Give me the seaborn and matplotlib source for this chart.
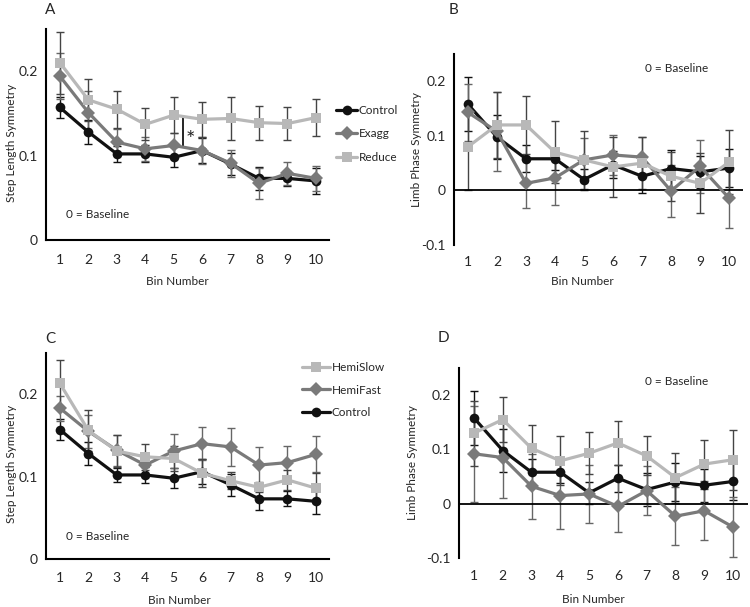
import matplotlib
matplotlib.use("Agg")
import matplotlib.pyplot as plt
from matplotlib.lines import Line2D
import numpy as np
import pandas as pd
import seaborn as sns

# ---------------- data ----------------
bins = list(range(1, 11))

# Panel A: step length symmetry
A_control = [0.157, 0.128, 0.102, 0.102, 0.098, 0.106, 0.090, 0.073, 0.073, 0.070]
A_control_err = [0.013, 0.014, 0.009, 0.010, 0.012, 0.015, 0.013, 0.014, 0.009, 0.015]
A_exagg = [0.194, 0.151, 0.116, 0.108, 0.112, 0.106, 0.091, 0.067, 0.079, 0.073]
A_exagg_err = [0.027, 0.025, 0.015, 0.014, 0.015, 0.016, 0.016, 0.018, 0.014, 0.015]
A_reduce = [0.210, 0.166, 0.155, 0.137, 0.148, 0.143, 0.144, 0.139, 0.138, 0.145]
A_reduce_err = [0.037, 0.025, 0.022, 0.019, 0.021, 0.021, 0.025, 0.020, 0.020, 0.022]

# Panel B: limb phase symmetry
B_control = [0.158, 0.098, 0.058, 0.058, 0.020, 0.047, 0.026, 0.040, 0.034, 0.041]
B_control_err = [0.050, 0.040, 0.025, 0.020, 0.020, 0.025, 0.030, 0.035, 0.030, 0.035]
B_exagg = [0.143, 0.108, 0.013, 0.023, 0.056, 0.065, 0.061, -0.001, 0.044, -0.014]
B_exagg_err = [0.052, 0.072, 0.046, 0.050, 0.040, 0.036, 0.037, 0.047, 0.048, 0.054]
B_reduce = [0.080, 0.120, 0.120, 0.070, 0.056, 0.043, 0.050, 0.026, 0.013, 0.052]
B_reduce_err = [0.079, 0.060, 0.053, 0.057, 0.053, 0.055, 0.048, 0.045, 0.055, 0.058]

# Panel C: step length symmetry (hemiparetic)
C_control = A_control
C_control_err = A_control_err
C_hemifast = [0.183, 0.155, 0.132, 0.114, 0.131, 0.140, 0.136, 0.114, 0.117, 0.127]
C_hemifast_err = [0.015, 0.020, 0.019, 0.012, 0.021, 0.020, 0.023, 0.022, 0.020, 0.022]
C_hemislow = [0.213, 0.156, 0.131, 0.124, 0.122, 0.104, 0.095, 0.087, 0.096, 0.086]
C_hemislow_err = [0.029, 0.025, 0.019, 0.016, 0.015, 0.017, 0.010, 0.006, 0.012, 0.018]

# Panel D: limb phase symmetry (hemiparetic)
D_control = B_control
D_control_err = B_control_err
D_hemifast = [0.092, 0.085, 0.032, 0.015, 0.018, -0.005, 0.024, -0.023, -0.013, -0.043]
D_hemifast_err = [0.088, 0.075, 0.060, 0.061, 0.053, 0.048, 0.045, 0.053, 0.054, 0.055]
D_hemislow = [0.130, 0.155, 0.102, 0.079, 0.093, 0.112, 0.088, 0.048, 0.073, 0.081]
D_hemislow_err = [0.060, 0.042, 0.043, 0.045, 0.039, 0.040, 0.036, 0.046, 0.045, 0.055]

step_ticks = [0, 0.1, 0.2]
step_ticklabels = ["0", "0.1", "0.2"]
phase_ticks = [-0.1, 0, 0.1, 0.2]
phase_ticklabels = ["-0.1", "0", "0.1", "0.2"]
bin_ticklabels = [str(b) for b in bins]

# ---------------- style ----------------
sns.set_theme(style="white")
plt.rcParams["font.family"] = ["Lato", "DejaVu Sans"]

BLACK = "#111111"
GRAY = "#7a7a7a"
LIGHT = "#b8b8b8"
ERR = {BLACK: "#111111", GRAY: "#666666", LIGHT: "#444444"}

fig = plt.figure(figsize=(7.5, 6.07), dpi=100)
W, H = 750, 607


def px_axes(left, right, top, bottom):
    return fig.add_axes([left / W, 1 - bottom / H, (right - left) / W, (bottom - top) / H])


def draw_panel(ax, series, ylim, xlim, yticks, yticklabels, ylabel, xpad, phase):
    frames = []
    for name, vals, errs, color, marker, ms in series:
        frames.append(pd.DataFrame({"Bin": bins, "val": vals, "group": name}))
        ax.errorbar(bins, vals, yerr=errs, fmt="none", ecolor=ERR[color], elinewidth=1.0,
                    capsize=2.6, capthick=1.0, zorder=1)
    df = pd.concat(frames, ignore_index=True)
    order = [s[0] for s in series]
    pal = {s[0]: s[3] for s in series}
    mk = {s[0]: s[4] for s in series}
    sns.lineplot(data=df, x="Bin", y="val", hue="group", style="group",
                 hue_order=order, style_order=order, palette=pal, markers=mk,
                 dashes=False, linewidth=2.3, markersize=7, markeredgewidth=0,
                 legend=False, ax=ax, zorder=3)
    ax.set_ylim(*ylim)
    ax.set_xlim(*xlim)
    ax.set_xticks(bins)
    ax.set_xticklabels(bin_ticklabels, fontsize=10)
    ax.set_yticks(yticks)
    ax.set_yticklabels(yticklabels, fontsize=10)
    ax.tick_params(axis="x", length=0, pad=xpad)
    ax.tick_params(axis="y", length=3.5, width=1.2, pad=2.5, color="black", direction="out")
    ax.set_ylabel(ylabel, fontsize=8.5)
    ax.set_xlabel("Bin Number", fontsize=8.5)
    for s in ["top", "right"]:
        ax.spines[s].set_visible(False)
    ax.spines["left"].set_linewidth(1.5)
    ax.spines["left"].set_color("black")
    if phase:
        ax.spines["bottom"].set_visible(False)
        ax.axhline(0, color="black", lw=1.3, zorder=2)
    else:
        ax.spines["bottom"].set_linewidth(1.5)
        ax.spines["bottom"].set_color("black")
    ax.set_facecolor("white")


# Panel A
axA = px_axes(46, 329, 29, 240)
draw_panel(axA, [
    ("Control", A_control, A_control_err, BLACK, "o", 7),
    ("Exagg", A_exagg, A_exagg_err, GRAY, "D", 6),
    ("Reduce", A_reduce, A_reduce_err, LIGHT, "s", 7),
], (0, 0.25), (0.51, 10.46), step_ticks, step_ticklabels, "Step Length Symmetry", 10, False)
axA.yaxis.set_label_coords(-0.102, 0.46)
axA.xaxis.set_label_coords(0.463, -0.171)
axA.plot([5.32, 5.32], [0.111, 0.146], color="black", lw=1.2)
axA.text(5.6, 0.118, "*", fontsize=16, ha="center", va="center")
axA.text(1.2, 0.03, "0 = Baseline", fontsize=8.5, ha="left", va="center")

# Panel B
axB = px_axes(454, 743, 54, 245)
draw_panel(axB, [
    ("Control", B_control, B_control_err, BLACK, "o", 7),
    ("Exagg", B_exagg, B_exagg_err, GRAY, "D", 6),
    ("Reduce", B_reduce, B_reduce_err, LIGHT, "s", 7),
], (-0.1, 0.25), (0.52, 10.48), phase_ticks, phase_ticklabels, "Limb Phase Symmetry", 8, True)
axB.yaxis.set_label_coords(-0.111, 0.5)
axB.xaxis.set_label_coords(0.443, -0.162)
axB.text(7.1, 0.224, "0 = Baseline", fontsize=8.5, ha="left", va="center")

# Panel C
axC = px_axes(46, 329, 353, 559)
draw_panel(axC, [
    ("Control", C_control, C_control_err, BLACK, "o", 7),
    ("HemiFast", C_hemifast, C_hemifast_err, GRAY, "D", 6),
    ("HemiSlow", C_hemislow, C_hemislow_err, LIGHT, "s", 7),
], (0, 0.25), (0.51, 10.46), step_ticks, step_ticklabels, "Step Length Symmetry", 9.5, False)
axC.yaxis.set_label_coords(-0.102, 0.46)
axC.xaxis.set_label_coords(0.47, -0.175)
axC.text(1.2, 0.027, "0 = Baseline", fontsize=8.5, ha="left", va="center")

# Panel D
axD = px_axes(459, 748, 368, 558)
draw_panel(axD, [
    ("Control", D_control, D_control_err, BLACK, "o", 7),
    ("HemiFast", D_hemifast, D_hemifast_err, GRAY, "D", 6),
    ("HemiSlow", D_hemislow, D_hemislow_err, LIGHT, "s", 7),
], (-0.1, 0.25), (0.48, 10.52), phase_ticks, phase_ticklabels, "Limb Phase Symmetry", 9, True)
axD.yaxis.set_label_coords(-0.142, 0.5)
axD.xaxis.set_label_coords(0.464, -0.19)
axD.text(6.94, 0.225, "0 = Baseline", fontsize=8.5, ha="left", va="center")


def handle(color, marker):
    return Line2D([0], [0], color=color, lw=2.3, marker=marker, markersize=7, markeredgewidth=0)


fig.legend([handle(BLACK, "o"), handle(GRAY, "D"), handle(LIGHT, "s")],
           ["Control", "Exagg", "Reduce"], loc="center left",
           bbox_to_anchor=(336 / W, 1 - 134 / H), frameon=False, fontsize=8.5,
           handlelength=1.8, handletextpad=0.1, labelspacing=1.05, borderpad=0,
           borderaxespad=0)
fig.legend([handle(LIGHT, "s"), handle(GRAY, "D"), handle(BLACK, "o")],
           ["HemiSlow", "HemiFast", "Control"], loc="center left",
           bbox_to_anchor=(302 / W, 1 - 390 / H), frameon=False, fontsize=8.5,
           handlelength=2.4, handletextpad=0.1, labelspacing=1.0, borderpad=0,
           borderaxespad=0)

# panel letters
fig.text(50 / W, 1 - 10 / H, "A", fontsize=11, ha="center", va="center")
fig.text(453 / W, 1 - 10 / H, "B", fontsize=11, ha="center", va="center")
fig.text(50 / W, 1 - 339 / H, "C", fontsize=11, ha="center", va="center")
fig.text(443 / W, 1 - 338 / H, "D", fontsize=11, ha="center", va="center")

fig.savefig("out.png", dpi=100, facecolor="white")
